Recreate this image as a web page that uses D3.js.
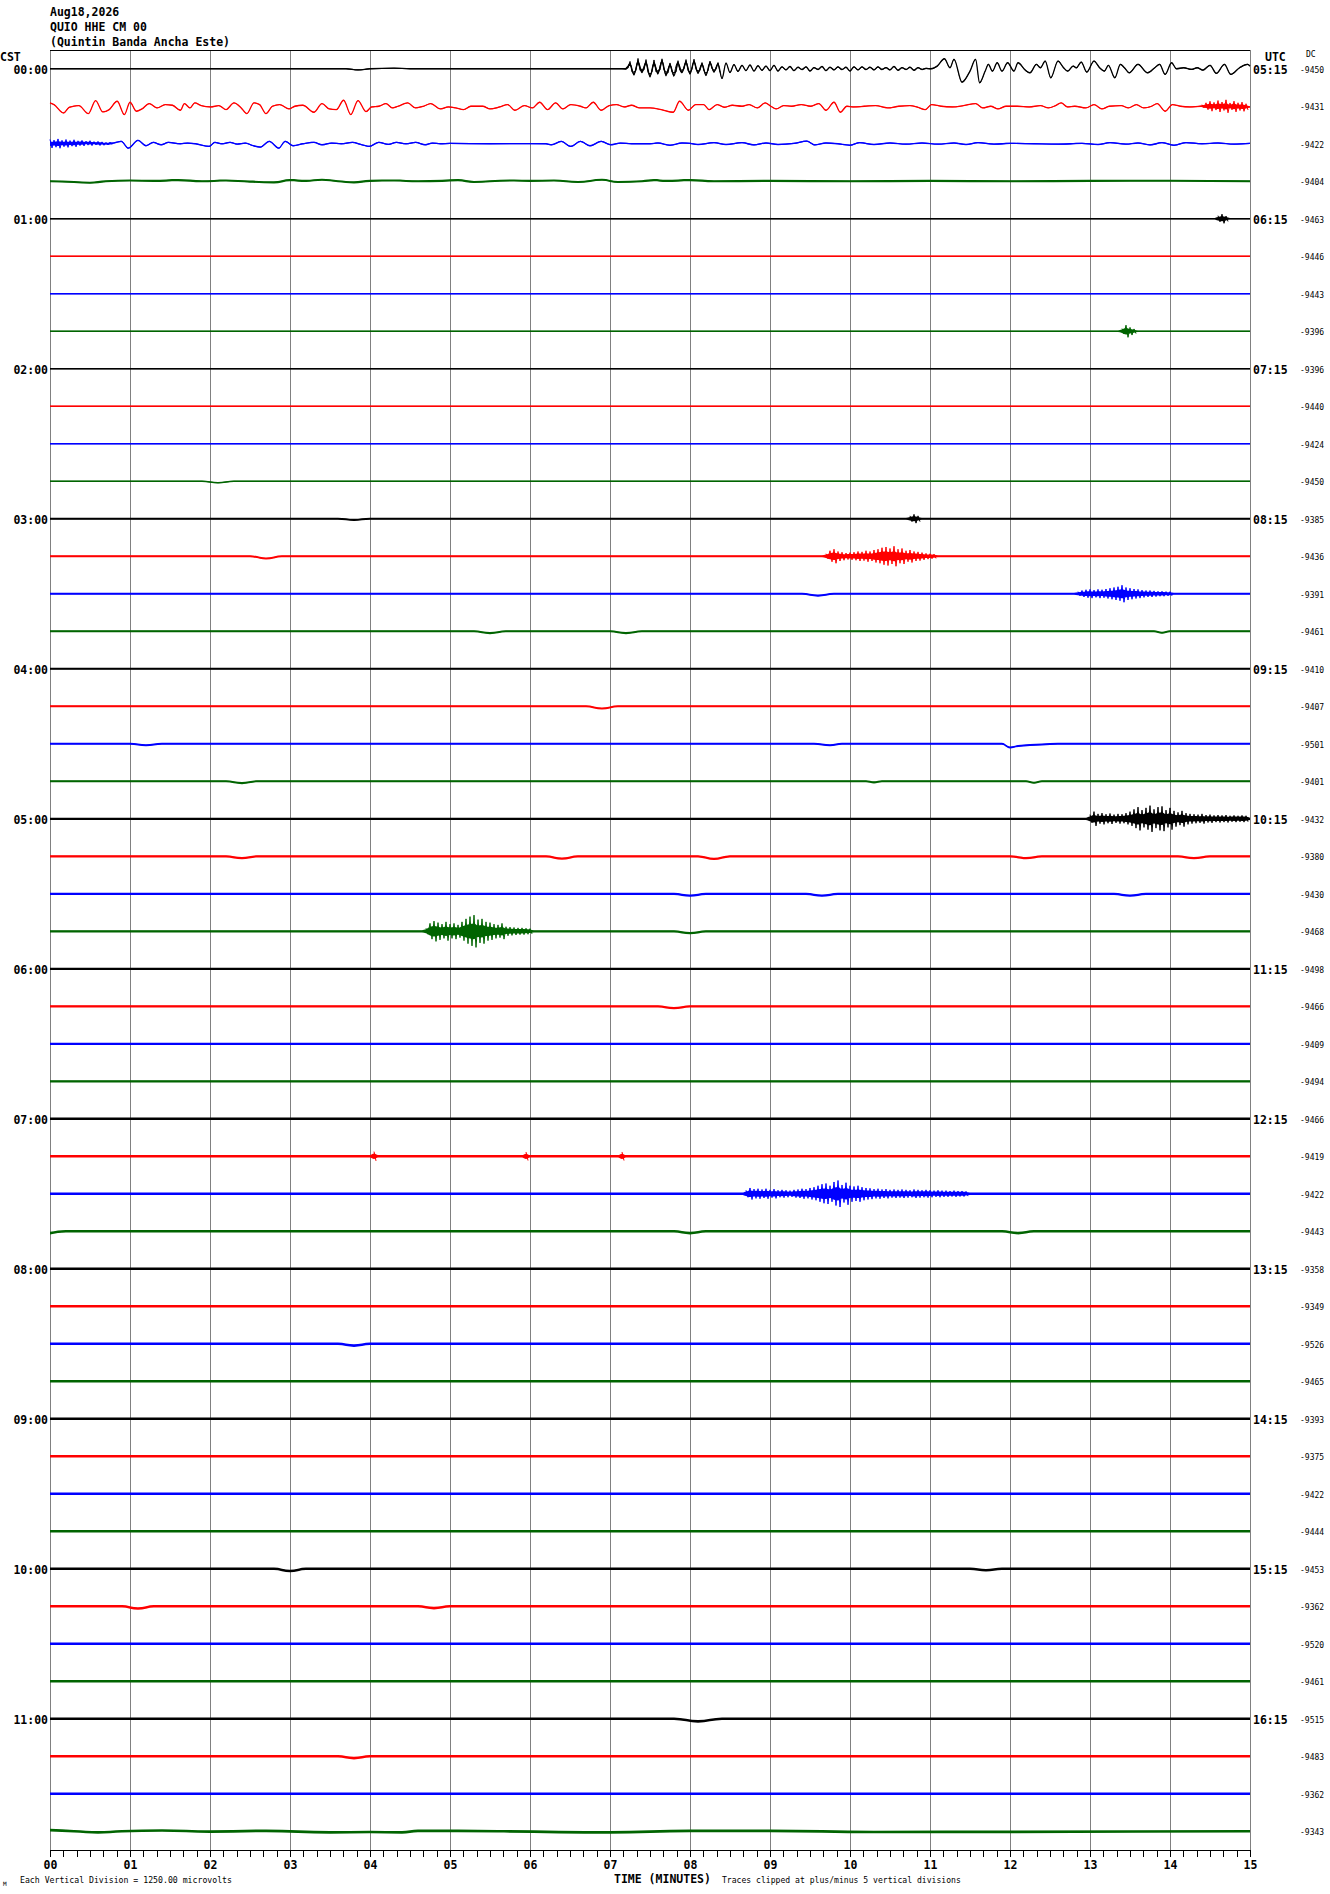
<!DOCTYPE html>
<html>
<head>
<meta charset="utf-8">
<script src="https://cdn.jsdelivr.net/npm/d3@7"></script>
<style>
  body { margin: 0; background: #fff; }
  svg { display: block; }
  text { font-family: "DejaVu Sans Mono", "Liberation Mono", monospace; fill: #000; }
</style>
</head>
<body>
<div id="chart"></div>
<script>
/* =========================================
   Helicorder: QUIO HHE, 12 h of 15-min rows
   ========================================= */

// Header + row labels
const headerLines = ["Aug18,2026", "QUIO HHE CM 00", "(Quintin Banda Ancha Este)"];
const cstLabels = ["00:00", "01:00", "02:00", "03:00", "04:00", "05:00",
                   "06:00", "07:00", "08:00", "09:00", "10:00", "11:00"];
const utcLabels = ["05:15", "06:15", "07:15", "08:15", "09:15", "10:15",
                   "11:15", "12:15", "13:15", "14:15", "15:15", "16:15"];
const minuteLabels = ["00", "01", "02", "03", "04", "05", "06", "07",
                      "08", "09", "10", "11", "12", "13", "14", "15"];

// DC offset per row (counts)
const dcValues = [
  -9450, -9431, -9422, -9404, -9463, -9446, -9443, -9396,
  -9396, -9440, -9424, -9450, -9385, -9436, -9391, -9461,
  -9410, -9407, -9501, -9401, -9432, -9380, -9430, -9468,
  -9498, -9466, -9409, -9494, -9466, -9419, -9422, -9443,
  -9358, -9349, -9526, -9465, -9393, -9375, -9422, -9444,
  -9453, -9362, -9520, -9461, -9515, -9483, -9362, -9343
];

const traceColors = ["#000000", "#ff0000", "#0000ff", "#006400"];

// Background noise half-width per row (vertical divisions)
const rowNoise = [
  0.15, 0.12, 0.15, 0.28, 0.22, 0.22, 0.22, 0.22,
  0.22, 0.22, 0.22, 0.22, 0.27, 0.27, 0.27, 0.27,
  0.27, 0.27, 0.27, 0.27, 0.30, 0.30, 0.30, 0.30,
  0.30, 0.30, 0.30, 0.30, 0.34, 0.34, 0.34, 0.34,
  0.34, 0.34, 0.34, 0.34, 0.36, 0.36, 0.36, 0.36,
  0.36, 0.36, 0.36, 0.36, 0.36, 0.36, 0.36, 0.36
];

// Trace centre line per row: [minute, divisions]
const flat = [[0, 0], [15, 0]];
const traceShape = [
  // row 0 (00:00) quiet, then the quake from ~7.2 min
  [[0, 0], [3.7, 0], [3.85, -0.3], [4.0, 0], [4.3, 0.15], [4.5, 0], [7.2, 0],
   [7.25, 1.2], [7.3, -1.5], [7.35, 1.8], [7.4, -0.8], [7.45, 1.6], [7.5, -2.0], [7.55, 1.4],
   [7.6, -1.2], [7.65, 2.0], [7.7, -1.6], [7.75, 1.0], [7.8, -1.8], [7.85, 1.5], [7.9, -0.9],
   [7.95, 1.7], [8.0, -1.3], [8.05, 1.9], [8.1, -1.1], [8.15, 1.2], [8.2, -1.7], [8.25, 1.6],
   [8.3, -0.8], [8.35, 1.3], [8.4, -2.6], [8.45, 1.5], [8.5, -1.0], [8.55, 1.1], [8.6, -0.7],
   [8.65, 0.9], [8.7, -0.5], [8.75, 1.0], [8.8, -0.6], [8.85, 0.8], [8.9, -0.4], [8.95, 0.7],
   [9.0, -0.5], [9.05, 0.9], [9.1, -0.6], [9.15, 0.5], [9.2, -0.3], [9.25, 0.6], [9.3, -0.5],
   [9.35, 0.4], [9.4, -0.2], [9.45, 0.5], [9.5, -0.6], [9.55, 0.3], [9.6, -0.2], [9.65, 0.6],
   [9.7, -0.5], [9.75, 0.4], [9.8, -0.3], [9.85, 0.5], [9.9, -0.2], [9.95, 0.4], [10.0, -0.6],
   [10.05, 0.5], [10.1, -0.3], [10.15, 0.5], [10.2, -0.2], [10.25, 0.4], [10.3, -0.3], [10.35, 0.5],
   [10.4, -0.2], [10.45, 0.3], [10.5, -0.3], [10.55, 0.6], [10.6, -0.4], [10.65, 0.3], [10.7, -0.2],
   [10.75, 0.4], [10.8, -0.4], [10.85, 0.3], [10.9, -0.2], [10.95, 0.1],
   [11.01, 0], [11.09, 0.7], [11.18, 2.67], [11.25, 0.27], [11.3, 2.49], [11.4, -3.56], [11.5, -0.62],
   [11.57, 2.49], [11.62, -3.73], [11.69, -0.62], [11.73, 1.16], [11.78, -0.62], [11.84, 1.6],
   [11.9, -0.62], [11.97, 1.6], [12.05, -0.62], [12.1, 1.6], [12.19, -0.36], [12.25, -1.07],
   [12.33, 1.16], [12.38, 0.27], [12.44, 2.04], [12.51, -2.4], [12.6, 2.04], [12.67, 0.27],
   [12.72, -0.62], [12.79, 0.71], [12.83, 0.27], [12.89, 1.78], [12.96, -0.89], [13.05, 2.04],
   [13.12, 0.27], [13.18, -0.62], [13.23, 0.89], [13.31, -2.4], [13.38, 1.16], [13.43, 0.27],
   [13.49, -1.07], [13.6, 1.16], [13.72, -1.07], [13.81, 0.27], [13.87, 1.16], [13.94, -1.51],
   [14.02, 1.6], [14.08, 0], [14.17, 0.27], [14.27, -0.18], [14.34, 0.27], [14.41, -0.36],
   [14.5, 0.89], [14.58, -1.24], [14.68, 1.16], [14.76, -1.51], [14.87, 0.27], [14.97, 1.16], [15, 0.71]],
  // row 1 (00:15) long-period surface waves
  [[0, 0.89], [0.05, 0.44], [0.17, -1.78], [0.24, -0.27], [0.36, 0.18], [0.48, -1.96], [0.57, 1.51],
   [0.66, -1.51], [0.74, -0.89], [0.84, 1.33], [0.93, -2.22], [1.0, 1.07], [1.08, -1.33], [1.15, -0.71],
   [1.24, 0.71], [1.34, -0.44], [1.44, 0.44], [1.53, 0.27], [1.63, -1.07], [1.68, 0.71], [1.75, -0.44],
   [1.81, 0.89], [1.89, 0.18], [2.01, -0.18], [2.11, 0.18], [2.2, -0.89], [2.3, 0.89], [2.39, -0.44],
   [2.46, -1.96], [2.55, 0.89], [2.62, 0.44], [2.7, -1.96], [2.78, 0], [2.87, 0.44], [2.99, -0.71],
   [3.06, 0], [3.16, 0.27], [3.3, -1.6], [3.4, 0.71], [3.49, -0.71], [3.58, -0.89], [3.67, 1.6],
   [3.76, -2.22], [3.85, 1.51], [3.95, -1.42], [4.02, -0.18], [4.11, 0], [4.2, 0.71], [4.28, -0.44],
   [4.35, 0], [4.47, 0.89], [4.57, -0.44], [4.67, 0], [4.76, 0.71], [4.88, -0.71], [4.98, -0.18],
   [5.07, -0.44], [5.17, -0.89], [5.26, 0], [5.41, 0], [5.5, -0.71], [5.62, -0.18], [5.72, 0.44],
   [5.81, -1.07], [5.93, 0.18], [6.03, -0.44], [6.12, 1.07], [6.22, -0.89], [6.32, 0.89], [6.41, -0.71],
   [6.51, 0.44], [6.63, 0], [6.7, -0.44], [6.79, 1.07], [6.89, -1.07], [6.99, 0.18], [7.08, 0.44],
   [7.18, -0.18], [7.27, 0.27], [7.37, -0.44], [7.5, -0.44], [7.64, -0.89], [7.79, -1.6], [7.87, 1.33],
   [7.98, -1.07], [8.07, 0.44], [8.17, 0.44], [8.24, -0.89], [8.34, 0.44], [8.43, -0.27], [8.53, 0.27],
   [8.65, 0], [8.74, 0.44], [8.84, -0.44], [8.94, 0.89], [9.01, 0], [9.08, -0.71], [9.17, 0.18],
   [9.27, 0], [9.39, 0.44], [9.51, 0], [9.61, 0.71], [9.7, -1.07], [9.8, 1.07], [9.88, -1.6],
   [9.96, 0], [10.04, -0.18], [10.18, 0], [10.32, 0.18], [10.47, -0.44], [10.61, 0], [10.75, 0.18],
   [10.85, -0.27], [10.94, -0.89], [11.02, 0.44], [11.14, 0], [11.28, -0.18], [11.42, 0.18],
   [11.57, 0.71], [11.66, -0.44], [11.76, 0], [11.85, -0.71], [11.95, 0], [12.09, 0], [12.24, -0.18],
   [12.38, 0.18], [12.48, -0.44], [12.57, 0.18], [12.64, 0.89], [12.72, -0.18], [12.81, 0],
   [12.95, -0.44], [13.05, 0.44], [13.15, -0.71], [13.24, 0], [13.39, 0.18], [13.48, -0.44],
   [13.58, 0.44], [13.67, -0.44], [13.77, 0], [13.84, 0.71], [13.94, -1.33], [14.03, 0.44],
   [14.13, 0], [14.25, -0.18], [14.39, 0], [14.68, 0], [15, -0.18]],
  // row 2 (00:30)
  [[0, 0], [0.48, 0.18], [0.72, 0], [0.79, 0.18], [0.89, 0.62], [0.98, -1.16], [1.1, 0.89], [1.2, -0.53],
   [1.29, 0.36], [1.39, -0.27], [1.48, 0.36], [1.63, 0], [1.72, 0.18], [1.82, 0], [1.99, -0.71],
   [2.06, 0.36], [2.15, 0], [2.25, 0.36], [2.34, -0.09], [2.44, 0.18], [2.54, -0.53], [2.63, -0.89],
   [2.74, 0.62], [2.86, -1.16], [2.94, 0.62], [3.04, -0.53], [3.16, 0], [3.3, 0.36], [3.4, -0.27],
   [3.52, 0.18], [3.64, 0], [3.78, 0.36], [3.9, -0.27], [3.99, -0.71], [4.11, 0.36], [4.23, -0.18],
   [4.33, 0.36], [4.45, 0], [4.57, 0.36], [4.69, -0.27], [4.78, 0.18], [4.88, 0], [5.0, 0.1], [5.5, 0],
   [6.0, 0.05], [6.2, 0], [6.27, -0.27], [6.39, 0.62], [6.51, -0.71], [6.63, 0.62], [6.75, -0.53],
   [6.89, 0.62], [7.01, -0.27], [7.13, 0.18], [7.27, 0], [7.5, 0], [7.6, 0.2], [7.75, -0.4], [7.9, 0.2],
   [8.0, 0.1], [8.1, -0.2], [8.3, 0.3], [8.45, -0.2], [8.65, 0.3], [8.8, -0.3], [8.95, 0.2], [9.1, -0.2],
   [9.3, 0.1], [9.46, 0.71], [9.56, -0.3], [9.7, 0.2], [9.85, 0], [10.0, -0.4], [10.12, 0.3], [10.3, -0.2],
   [10.5, 0.2], [10.7, -0.1], [10.9, 0.2], [11.1, -0.1], [11.3, 0.2], [11.45, -0.2], [11.6, 0.3],
   [11.8, -0.1], [12.0, 0.1], [12.3, 0], [12.6, -0.1], [12.9, 0.1], [13.1, -0.2], [13.25, 0.3],
   [13.45, -0.1], [13.6, 0.2], [13.75, -0.3], [13.9, 0.3], [14.05, -0.4], [14.2, 0.3], [14.4, 0],
   [14.6, 0.2], [14.8, -0.1], [15, 0.1]],
  // row 3 (00:45)
  [[0, 0], [0.3, -0.2], [0.5, -0.4], [0.7, 0], [1.0, 0.2], [1.3, 0.1], [1.6, 0.3], [1.9, 0], [2.2, 0.2],
   [2.5, -0.1], [2.8, -0.3], [3.0, 0.3], [3.2, 0.1], [3.4, 0.4], [3.6, 0], [3.8, -0.3], [4.0, 0.1],
   [4.3, 0.2], [4.6, 0], [4.9, 0.1], [5.1, 0.3], [5.3, -0.2], [5.5, 0], [5.8, 0.2], [6.0, 0.1],
   [6.3, 0.2], [6.6, -0.2], [6.9, 0.4], [7.1, -0.2], [7.4, 0], [7.55, 0.3], [7.7, 0.1], [8.0, 0.3],
   [8.3, 0], [9, 0.1], [10, 0], [11, 0.1], [12, 0], [13, 0.1], [14, 0.15], [15, 0]],
  flat, flat, flat, flat,                                                   // rows 4-7
  flat, flat, flat,                                                         // rows 8-10
  [[0, 0], [1.9, 0], [2.1, -0.4], [2.3, 0], [15, 0]],                      // row 11
  [[0, 0], [3.6, 0], [3.8, -0.3], [4.0, 0], [15, 0]],                      // row 12
  [[0, 0], [2.5, 0], [2.7, -0.6], [2.9, 0], [15, 0]],                      // row 13
  [[0, 0], [9.4, 0], [9.6, -0.5], [9.8, 0], [15, 0]],                      // row 14
  [[0, 0], [5.3, 0], [5.5, -0.5], [5.7, 0], [7.0, 0], [7.2, -0.5], [7.4, 0],
   [13.8, 0], [13.9, -0.4], [14.0, 0], [15, 0]],                           // row 15
  flat,                                                                     // row 16
  [[0, 0], [6.7, 0], [6.9, -0.6], [7.1, 0], [15, 0]],                      // row 17
  [[0, 0], [1.0, 0], [1.2, -0.4], [1.4, 0], [9.55, 0], [9.75, -0.4], [9.9, 0],
   [11.9, 0], [12.0, -1.0], [12.1, -0.6], [12.4, -0.2], [12.6, 0], [15, 0]], // row 18
  [[0, 0], [2.2, 0], [2.4, -0.5], [2.6, 0], [10.2, 0], [10.3, -0.3], [10.4, 0],
   [12.2, 0], [12.3, -0.4], [12.4, 0], [15, 0]],                           // row 19
  flat,                                                                     // row 20
  [[0, 0], [2.2, 0], [2.4, -0.5], [2.6, 0], [6.2, 0], [6.4, -0.6], [6.6, 0],
   [8.1, 0], [8.3, -0.7], [8.5, 0], [12.0, 0], [12.2, -0.5], [12.4, 0],
   [14.1, 0], [14.3, -0.5], [14.5, 0], [15, 0]],                           // row 21
  [[0, 0], [7.8, 0], [8.0, -0.5], [8.2, 0], [9.45, 0], [9.65, -0.5], [9.85, 0],
   [13.3, 0], [13.5, -0.5], [13.7, 0], [15, 0]],                           // row 22
  [[0, 0], [7.8, 0], [8.0, -0.5], [8.2, 0], [15, 0]],                      // row 23
  flat,                                                                     // row 24
  [[0, 0], [7.6, 0], [7.8, -0.5], [8.0, 0], [15, 0]],                      // row 25
  flat, flat, flat, flat, flat,                                             // rows 26-30
  [[0, -0.5], [0.2, 0], [7.8, 0], [8.0, -0.5], [8.2, 0], [11.9, 0], [12.1, -0.5],
   [12.3, 0], [15, 0]],                                                    // row 31
  flat, flat,                                                               // rows 32-33
  [[0, 0], [3.6, 0], [3.8, -0.5], [4.0, 0], [15, 0]],                      // row 34
  flat, flat, flat, flat, flat,                                             // rows 35-39
  [[0, 0], [2.8, 0], [3.0, -0.6], [3.2, 0], [11.5, 0], [11.7, -0.4], [11.9, 0], [15, 0]], // row 40
  [[0, 0], [0.9, 0], [1.1, -0.6], [1.3, 0], [4.6, 0], [4.8, -0.5], [5.0, 0], [15, 0]],    // row 41
  flat, flat,                                                               // rows 42-43
  [[0, 0], [7.8, 0], [8.1, -0.7], [8.4, 0], [15, 0]],                      // row 44
  [[0, 0], [3.6, 0], [3.8, -0.5], [4.0, 0], [15, 0]],                      // row 45
  flat,                                                                     // row 46
  [[0, 0.3], [0.3, 0], [0.6, -0.3], [0.9, 0], [1.4, 0.2], [2.0, -0.1], [2.7, 0.1], [3.5, -0.3],
   [4.0, -0.2], [4.4, -0.3], [4.6, 0.1], [5.6, 0], [7.0, -0.3], [8.0, 0.1], [9.0, 0.1],
   [10.3, -0.2], [15, 0]]                                                  // row 47
];

// Local events: row, start minute, peak half-width (divisions) in bins of burstStep minutes
const burstStep = 0.05;
const burstRows = [0, 1, 2, 4, 7, 12, 13, 14, 20, 23, 29, 29, 29, 30];
const burstStarts = [7.2, 14.4, 0.0, 14.6, 13.4, 10.75, 9.7, 12.85, 13.0, 4.7, 4.05, 5.95, 7.15, 8.7];
const burstEnvelopes = [
  [0.3, 0.6, 0.5, 0.8, 0.6, 0.7, 0.5, 0.8, 0.6, 0.5, 0.7, 0.4, 0.6, 0.5, 0.4, 0.6, 0.3, 0.5,
   0.4, 0.3, 0.4, 0.3, 0.3, 0.2],
  [0.3, 0.8, 1.2, 0.9, 1.4, 1.0, 1.6, 0.8, 1.3, 0.9, 1.1, 0.7],
  [1.0, 0.8, 1.1, 0.7, 0.9, 0.6, 0.8, 0.5, 0.6, 0.4, 0.5, 0.3, 0.4, 0.3, 0.2, 0.2],
  [0.6, 1.0, 0.5],
  [0.5, 1.4, 0.8, 0.4],
  [0.5, 0.9, 0.5],
  [0.4, 1.2, 1.6, 1.0, 0.8, 0.6, 0.7, 0.8, 1.0, 0.9, 1.2, 1.0, 1.4, 1.6, 2.0, 2.2, 1.8, 2.4,
   1.6, 1.8, 1.2, 1.4, 1.0, 0.9, 0.7, 0.5, 0.4, 0.3],
  [0.3, 0.6, 0.8, 0.9, 0.7, 0.9, 0.8, 1.0, 1.2, 1.4, 1.6, 2.0, 1.4, 1.2, 1.0, 0.9, 0.7, 0.6,
   0.6, 0.5, 0.4, 0.4, 0.3, 0.3],
  [0.8, 1.6, 1.0, 1.2, 0.9, 1.1, 0.8, 1.0, 0.9, 1.2, 1.6, 2.2, 2.8, 2.0, 2.6, 3.2, 2.2, 2.8,
   3.0, 2.0, 2.6, 1.8, 1.4, 1.8, 1.2, 1.0, 0.9, 0.8, 1.0, 0.7, 0.8, 0.6, 0.7, 0.6, 0.7, 0.5,
   0.6, 0.5, 0.6, 0.5],
  [0.5, 1.8, 2.4, 2.0, 1.6, 2.2, 1.6, 1.8, 1.4, 2.2, 3.0, 3.6, 4.0, 2.8, 3.0, 2.2, 2.0, 1.6,
   1.4, 1.8, 0.9, 0.8, 0.7, 0.6, 0.6, 0.5, 0.4],
  [0.9],
  [0.8],
  [0.8],
  [0.6, 1.2, 0.9, 1.0, 0.8, 1.0, 0.7, 0.9, 0.6, 0.7, 0.6, 0.5, 0.7, 0.8, 1.0, 0.9, 1.2, 1.4,
   1.8, 2.2, 2.4, 1.8, 2.8, 3.2, 2.0, 2.6, 1.8, 1.6, 1.8, 1.4, 1.2, 1.1, 0.9, 1.0, 0.8, 0.9,
   0.7, 0.8, 0.7, 0.8, 0.7, 0.6, 0.8, 0.7, 0.6, 0.7, 0.6, 0.5, 0.6, 0.5, 0.5, 0.4, 0.5, 0.4,
   0.4, 0.3]
];

// Dimensions
const width = 1330;
const height = 1894;
const margin = { top: 50, right: 80, bottom: 44, left: 50 };
const rowCount = dcValues.length;

// Scales
const x = d3.scaleLinear().domain([0, 15]).range([margin.left, width - margin.right]);
const y = d3.scaleBand().domain(d3.range(rowCount)).range([margin.top, height - margin.bottom]);

const svg = d3.select("#chart")
  .append("svg")
  .attr("width", width)
  .attr("height", height)
  .style("background", "#fff");

// Header
svg.selectAll(".header")
  .data(headerLines)
  .enter()
  .append("text")
  .attr("class", "header")
  .attr("x", margin.left)
  .attr("y", (d, i) => 12 + i * 15)
  .attr("dy", "0.35em")
  .style("font-size", "11.5px")
  .style("font-weight", "bold")
  .text((d) => d);

svg.append("text").attr("x", 0).attr("y", 57).attr("dy", "0.35em")
  .style("font-size", "11.5px").style("font-weight", "bold").text("CST");
svg.append("text").attr("x", 1265).attr("y", 57).attr("dy", "0.35em")
  .style("font-size", "11.5px").style("font-weight", "bold").text("UTC");
svg.append("text").attr("x", 1306).attr("y", 54).attr("dy", "0.35em")
  .style("font-size", "8px").text("DC");

// Minute grid lines
svg.append("g")
  .selectAll("line")
  .data(minuteLabels.map((d, i) => i))
  .enter()
  .append("line")
  .attr("x1", (d) => x(d) + 0.5)
  .attr("x2", (d) => x(d) + 0.5)
  .attr("y1", margin.top)
  .attr("y2", height - margin.bottom)
  .attr("stroke", "#808080")
  .attr("stroke-width", 1)
  .attr("shape-rendering", "crispEdges");

// Top frame line
svg.append("line")
  .attr("x1", x(0)).attr("x2", x(15))
  .attr("y1", margin.top + 0.5).attr("y2", margin.top + 0.5)
  .attr("stroke", "#000")
  .attr("shape-rendering", "crispEdges");

// Traces
const traces = svg.append("g");

d3.range(rowCount).forEach((i) => {
  const cy = y(i) + y.bandwidth() / 2;
  const half = y.bandwidth() / 2;
  // amplitude in divisions -> screen, clipped at +/- 5 divisions
  const amp = d3.scaleLinear().domain([-5, 5]).range([cy + half, cy - half]).clamp(true);

  const shape = traceShape[i];
  const base = d3.scaleLinear().domain(shape.map((d) => d[0])).range(shape.map((d) => d[1]));
  const color = traceColors[i % traceColors.length];
  const noise = rowNoise[i];

  // this row's events
  const rowBursts = burstRows.map((r, k) => k).filter((k) => burstRows[k] === i);

  const envPts = [];
  rowBursts.forEach((k) => {
    const s = burstStarts[k];
    const env = burstEnvelopes[k];
    envPts.push([s - burstStep, 0]);
    env.forEach((e, j) => envPts.push([s + j * burstStep, e]));
    envPts.push([s + env.length * burstStep, 0]);
  });
  envPts.sort((a, b) => a[0] - b[0]);
  const envAt = envPts.length
    ? d3.scaleLinear().domain(envPts.map((d) => d[0])).range(envPts.map((d) => d[1])).clamp(true)
    : () => 0;

  const knots = Array.from(new Set(shape.map((d) => d[0]).concat(envPts.map((d) => d[0]))))
    .filter((t) => t >= 0 && t <= 15)
    .sort((a, b) => a - b);

  // noise band (solid core of events)
  const band = d3.area()
    .curve(d3.curveMonotoneX)
    .x((t) => x(t))
    .y0((t) => amp(base(t) - noise - 0.45 * envAt(t)))
    .y1((t) => amp(base(t) + noise + 0.45 * envAt(t)));

  traces.append("path")
    .attr("d", band(knots))
    .attr("fill", color);

  // centre line
  const line = d3.line()
    .curve(d3.curveMonotoneX)
    .x((d) => x(d[0]))
    .y((d) => amp(d[1]));

  traces.append("path")
    .attr("d", line(shape))
    .attr("fill", "none")
    .attr("stroke", color)
    .attr("stroke-width", i < 3 ? 1.3 : 1);

  // events: each bin drawn from its max to its min
  rowBursts.forEach((k) => {
    const s = burstStarts[k];
    const env = burstEnvelopes[k];
    const pts = [];
    env.forEach((e, j) => {
      const t0 = s + j * burstStep;
      const t1 = t0 + burstStep / 2;
      if (t0 <= 15) pts.push([t0, base(t0) + noise + e]);
      if (t1 <= 15) pts.push([t1, base(t1) - noise - e]);
    });
    traces.append("path")
      .attr("d", d3.line().x((d) => x(d[0])).y((d) => amp(d[1]))(pts))
      .attr("fill", "none")
      .attr("stroke", color)
      .attr("stroke-width", 1);
  });

  // DC label
  svg.append("text")
    .attr("x", 1300)
    .attr("y", cy + 1)
    .attr("dy", "0.35em")
    .style("font-size", "8px")
    .text(dcValues[i]);

  // hour labels every 4 rows
  if (i % 4 === 0) {
    svg.append("text")
      .attr("x", margin.left - 2)
      .attr("y", cy + 1)
      .attr("dy", "0.35em")
      .attr("text-anchor", "end")
      .style("font-size", "11.5px")
      .style("font-weight", "bold")
      .text(cstLabels[i / 4]);

    svg.append("text")
      .attr("x", 1253)
      .attr("y", cy + 1)
      .attr("dy", "0.35em")
      .style("font-size", "11.5px")
      .style("font-weight", "bold")
      .text(utcLabels[i / 4]);
  }
});

// Time axis (tick every 10 s)
const tickVals = d3.range(0, 91).map((k) => k / 6);
const axis = d3.axisBottom(x)
  .tickValues(tickVals)
  .tickSize(7)
  .tickSizeOuter(0)
  .tickPadding(4)
  .tickFormat((d) => (Math.abs(d - Math.round(d)) < 1e-9 ? minuteLabels[Math.round(d)] : ""));

svg.append("g")
  .attr("transform", `translate(0,${height - margin.bottom})`)
  .call(axis)
  .call((g) => g.selectAll("line").attr("stroke", "#000").attr("shape-rendering", "crispEdges"))
  .call((g) => g.select(".domain").attr("stroke", "#000").attr("shape-rendering", "crispEdges"))
  .selectAll("text")
  .style("font-family", "\"DejaVu Sans Mono\", monospace")
  .style("font-size", "11.5px")
  .style("font-weight", "bold")
  .attr("fill", "#000");

// Footer notes
svg.append("text").attr("x", 3).attr("y", 1884).attr("dy", "0.35em")
  .style("font-size", "6px").text("M");
svg.append("text").attr("x", 20).attr("y", 1880).attr("dy", "0.35em")
  .style("font-size", "8.2px").text("Each Vertical Division = 1250.00 microvolts");
svg.append("text").attr("x", 614).attr("y", 1879).attr("dy", "0.35em")
  .style("font-size", "11.5px").style("font-weight", "bold").text("TIME (MINUTES)");
svg.append("text").attr("x", 722).attr("y", 1880).attr("dy", "0.35em")
  .style("font-size", "8.1px").text("Traces clipped at plus/minus 5 vertical divisions");
</script>
</body>
</html>
